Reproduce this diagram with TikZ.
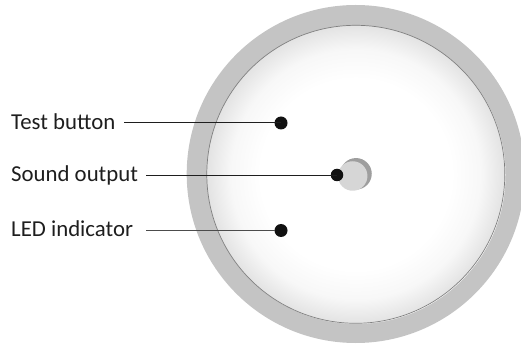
\documentclass[tikz,border=0pt]{standalone}
\usepackage{fontspec}
\setmainfont{Carlito}
\definecolor{ringgray}{HTML}{C4C4C4}
\definecolor{rimline}{HTML}{808080}
\definecolor{btnlight}{HTML}{D6D6D6}
\definecolor{btndark}{HTML}{9E9E9E}
\definecolor{dotblack}{HTML}{111111}
\definecolor{inkgray}{HTML}{1E1E1E}
\pgfdeclareradialshading{faceshade}{\pgfpoint{0bp}{0bp}}{
  color(0bp)=(white); color(16bp)=(white); color(21bp)=(white!97!black);
  color(25bp)=(white!89!black); color(50bp)=(white!89!black)}
\tikzset{
  disc/.style={circle,inner sep=0pt,outer sep=0pt,minimum size=#1},
  marker/.style={disc=13pt,fill=dotblack},
  lead/.style={draw=inkgray,line width=1pt},
  lbl/.style={inner sep=0pt,anchor=base west,text=inkgray,font=\fontsize{22.8pt}{26pt}\selectfont}
}
\begin{document}
\begin{tikzpicture}[x=1pt,y=-1pt]
\useasboundingbox (0,0) rectangle (521,344);
\node[disc=338pt,fill=ringgray] (ring) at (355.7,174) {};
\node[disc=298pt,fill=white] (glint) at (356.5,174.9) {};
\node[disc=298pt,shading=faceshade,draw=rimline,line width=0.7pt] (face) at (355.8,174.3) {};
\node[disc=31.5pt,fill=btndark] (backbtn) at (356,173.8) {};
\node[disc=29.5pt,fill=btnlight] (frontbtn) at (352.7,176) {};
\node[marker] (d1) at (281,123) {};
\node[marker,disc=12.5pt] (d2) at (337,175) {};
\node[marker] (d3) at (281,230.5) {};
\node[lbl] (t1) at (11,129.5) {Test button};
\node[lbl] (t2) at (11,182) {Sound output};
\node[lbl] (t3) at (11,236.5) {LED indicator};
\coordinate (s1) at (124,122.5);
\coordinate (s2) at (146,175.5);
\coordinate (s3) at (146,230.5);
\draw[lead] (s1) -- (d1.center |- s1);
\draw[lead] (s2) -- (d2.center |- s2);
\draw[lead,draw=black!70] (s3) -- (d3);
\end{tikzpicture}
\end{document}
